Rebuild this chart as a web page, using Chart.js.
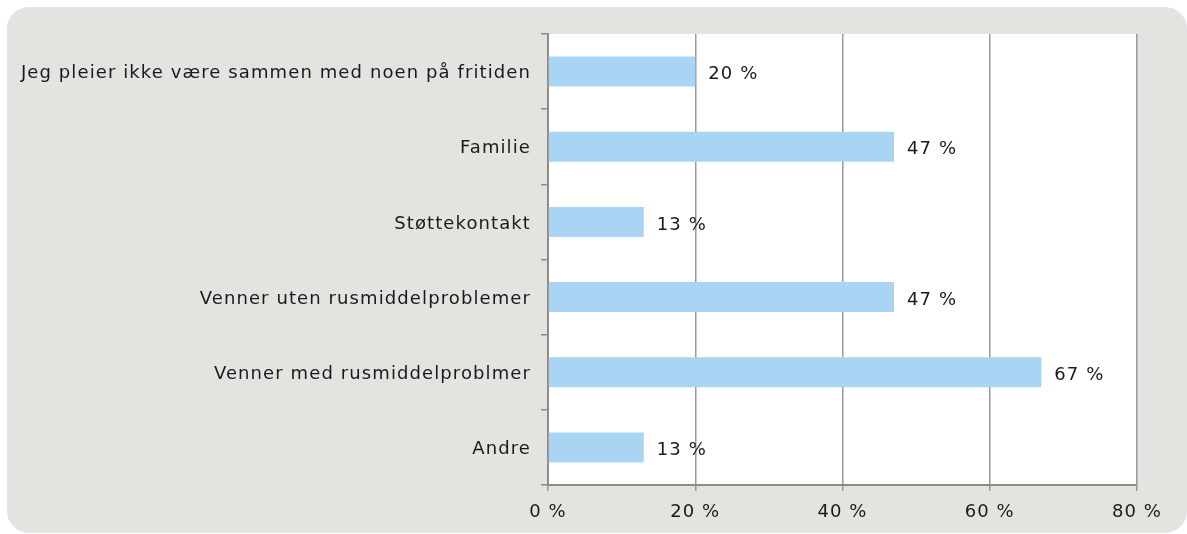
<!DOCTYPE html>
<html>
<head>
<meta charset="utf-8">
<script src="https://cdn.jsdelivr.net/npm/chart.js@4"></script>
<style>
  html, body { margin: 0; padding: 0; background: #fff; }
  #wrap { width: 1187px; height: 534px; }
</style>
</head>
<body>
<div id="wrap"><canvas id="chart" width="1187" height="534"></canvas></div>
<script>
"use strict";
const categories = [
    'Jeg pleier ikke være sammen med noen på fritiden',
    'Familie',
    'Støttekontakt',
    'Venner uten rusmiddelproblemer',
    'Venner med rusmiddelproblmer',
    'Andre'
];
const values = [20, 47, 13, 47, 67, 13];
const xTicks = [0, 20, 40, 60, 80];

const SPACING = '1.1px';

const spacingPlugin = {
    id: 'spacing',
    beforeInit(chart) {
        chart.ctx.letterSpacing = SPACING;
    },
    beforeUpdate(chart) {
        chart.ctx.letterSpacing = SPACING;
    }
};

const panelPlugin = {
    id: 'panel',
    beforeDraw(chart) {
        const ctx = chart.ctx;
        const area = chart.chartArea;
        ctx.save();
        ctx.fillStyle = '#e4e3df';
        ctx.beginPath();
        ctx.roundRect(7, 7, 1180, 526, 22);
        ctx.fill();
        ctx.fillStyle = '#ffffff';
        ctx.fillRect(area.left, area.top, area.right - area.left, area.bottom - area.top);
        ctx.restore();
    }
};

const valueLabels = {
    id: 'valueLabels',
    afterDatasetsDraw(chart) {
        const ctx = chart.ctx;
        const meta = chart.getDatasetMeta(0);
        ctx.save();
        ctx.letterSpacing = SPACING;
        ctx.font = '18px "DejaVu Sans"';
        ctx.fillStyle = '#1a1a1a';
        ctx.textAlign = 'left';
        ctx.textBaseline = 'middle';
        meta.data.forEach((bar, i) => {
            ctx.fillText(values[i] + ' %', bar.x + 13, bar.y + 3);
        });
        ctx.restore();
    }
};

const context = document.getElementById('chart');
const chart = new Chart(context, {
    type: 'bar',
    data: {
        labels: categories,
        datasets: [{
            data: values,
            backgroundColor: '#a9d4f4',
            borderWidth: 0,
            categoryPercentage: 0.4,
            barPercentage: 1.0
        }]
    },
    options: {
        indexAxis: 'y',
        responsive: false,
        animation: false,
        devicePixelRatio: 1,
        layout: { padding: { top: 34, right: 50, bottom: 0, left: 0 } },
        plugins: {
            legend: { display: false },
            tooltip: { enabled: false }
        },
        scales: {
            x: {
                min: 0,
                max: 80,
                afterBuildTicks(scale) {
                    scale.ticks = xTicks.map(v => ({ value: v }));
                },
                afterFit(scale) { scale.height = 49; },
                grid: {
                    color: '#9a9a9a',
                    lineWidth: 1.5,
                    tickLength: 6,
                    drawTicks: true
                },
                border: { display: true, color: '#8c8c8c', width: 2 },
                ticks: {
                    padding: 11,
                    color: '#1a1a1a',
                    font: { family: 'DejaVu Sans', size: 18 },
                    callback: v => v + ' %'
                }
            },
            y: {
                afterFit(scale) { scale.width = 548; },
                grid: {
                    offset: true,
                    drawOnChartArea: false,
                    color: '#8c8c8c',
                    lineWidth: 1.5,
                    tickLength: 7
                },
                border: { display: true, color: '#8c8c8c', width: 2 },
                ticks: {
                    padding: 10,
                    labelOffset: 2,
                    color: '#1a1a1a',
                    font: { family: 'DejaVu Sans', size: 18 }
                }
            }
        }
    },
    plugins: [spacingPlugin, panelPlugin, valueLabels]
});
</script>
</body>
</html>
